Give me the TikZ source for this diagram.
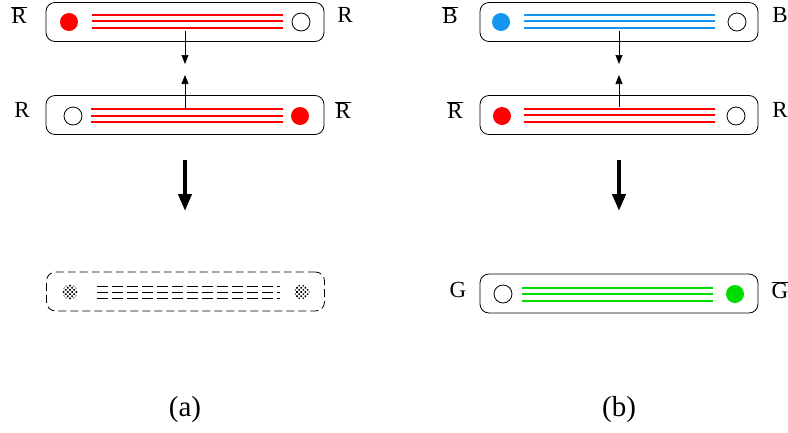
\documentclass[tikz,border=0pt]{standalone}
\usepackage{fontspec}
\setmainfont{Liberation Serif}
\usetikzlibrary{arrows.meta,patterns.meta}

\definecolor{qblue}{RGB}{20,150,240}
\definecolor{qgreen}{RGB}{0,220,0}
\newcommand{\anti}[1]{\ensuremath{\overline{\mbox{#1}}}}

\begin{document}
\begin{tikzpicture}[x=1pt, y=-1pt,
    tube/.style={draw, rounded corners=9pt, minimum width=278pt, minimum height=39pt, inner sep=0pt, line width=0.8pt},
    ghost/.style={tube, dash pattern=on 8pt off 4pt},
    qfull/.style={circle, minimum size=18pt, inner sep=0pt},
    qopen/.style={circle, draw, minimum size=18pt, inner sep=0pt, line width=0.8pt},
    qfuzz/.style={circle, pattern={Dots[distance=3pt, radius=1.1pt, angle=45]}, minimum size=15pt, inner sep=0pt},
    flux/.style={line width=1.5pt},
    arr/.style={-{Triangle[length=9pt, width=7pt]}, line width=0.7pt},
    big/.style={-{Triangle[length=17pt, width=13pt]}, line width=4pt},
    lbl/.style={font=\fontsize{23}{26}\selectfont},
    sublbl/.style={font=\fontsize{29}{32}\selectfont}
]
\useasboundingbox (0,0) rectangle (788,432);

% (a)
\node[tube] (a1) at (185,22) {};
\node[tube] (a2) at (185,115) {};
\node[ghost] (a3) at (185.5,291.5) {};
\node[qfull, fill=red] (a1q) at (69,22) {};
\node[qopen] (a1p) at (301,22) {};
\node[qopen] (a2q) at (73,116) {};
\node[qfull, fill=red] (a2p) at (300,116) {};
\node[qfuzz] (a3q) at (70,292) {};
\node[qfuzz] (a3p) at (302,292) {};
\foreach \y in {15,21,28} \draw[flux, red] (92,\y) -- (283,\y);
\foreach \y in {109,116,122} \draw[flux, red] (91,\y) -- (283,\y);
\foreach \y in {286,292,298} \draw[line width=0.8pt, dash pattern=on 11pt off 4pt] (97,\y) -- (280,\y);
\node[lbl] (a1l) at (19,15) {\anti{R}};
\node[lbl] (a1r) at (345,15) {R};
\node[lbl] (a2l) at (22,110) {R};
\node[lbl] (a2r) at (343,110) {\anti{R}};
\coordinate (a1s) at (185,31);
\coordinate (a1t) at (185,64);
\coordinate (a2s) at (185,109);
\coordinate (a2t) at (185,75);
\coordinate (abs) at (185,160);
\coordinate (abt) at (185,211);
\draw[arr] (a1s) -- (a1t);
\draw[arr] (a2s) -- (a2t);
\draw[big] (abs) -- (abt);
\node[sublbl] (acap) at (185,410) {(a)};

% (b)
\node[tube] (b1) at (619,22) {};
\node[tube] (b2) at (619,115) {};
\node[tube] (b3) at (619,293.5) {};
\node[qfull, fill=qblue] (b1q) at (501,22) {};
\node[qopen] (b1p) at (737,22) {};
\node[qfull, fill=red] (b2q) at (502,116) {};
\node[qopen] (b2p) at (736,116) {};
\node[qopen] (b3q) at (503,294) {};
\node[qfull, fill=qgreen] (b3p) at (735,294) {};
\foreach \y in {15,21,28} \draw[flux, qblue] (524,\y) -- (715,\y);
\foreach \y in {109,115,122} \draw[flux, red] (524,\y) -- (715,\y);
\foreach \y in {288,294,301} \draw[flux, qgreen] (522,\y) -- (713,\y);
\node[lbl] (b1l) at (450,15) {\anti{B}};
\node[lbl] (b1r) at (780,15) {B};
\node[lbl] (b2l) at (455,110) {\anti{R}};
\node[lbl] (b2r) at (780,110) {R};
\node[lbl] (b3l) at (458,290) {G};
\node[lbl] (b3r) at (780,290) {\anti{G}};
\coordinate (b1s) at (619,31);
\coordinate (b1t) at (619,64);
\coordinate (b2s) at (619,107);
\coordinate (b2t) at (619,75);
\coordinate (bbs) at (619,160);
\coordinate (bbt) at (619,211);
\draw[arr] (b1s) -- (b1t);
\draw[arr] (b2s) -- (b2t);
\draw[big] (bbs) -- (bbt);
\node[sublbl] (bcap) at (619,410) {(b)};
\end{tikzpicture}
\end{document}
